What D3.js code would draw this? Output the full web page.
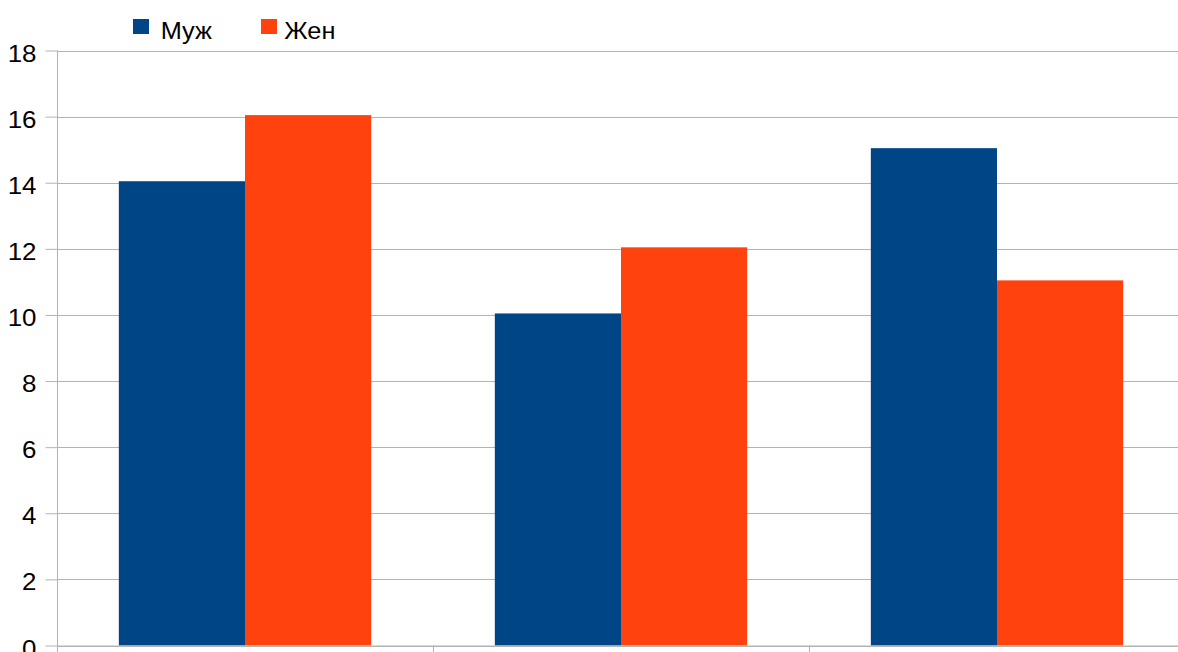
<!DOCTYPE html>
<html>
<head>
<meta charset="utf-8">
<script src="https://cdn.jsdelivr.net/npm/d3@7"></script>
<style>
  html, body { margin: 0; padding: 0; background: #fff; }
  svg { display: block; font-family: "Liberation Sans", Arial, sans-serif; }
</style>
</head>
<body>
<svg id="chart" width="1178" height="652"></svg>
<script>
'use strict';

// chart data
var categories = ['1', '2', '3'],
    seriesNames = ['Муж', 'Жен'],
    maleValues = [14, 10, 15],
    femaleValues = [16, 12, 11],
    yTicks = [0, 2, 4, 6, 8, 10, 12, 14, 16, 18];

(function () {
  var colors = ['#004586', '#ff420e'],
      series = [maleValues, femaleValues],
      axisStretch = 1.08,   // the reference text is drawn slightly wide
      legendStretch = 1.1;

  var svg = d3.select('#chart'),
      plotLeft = 57,
      plotRight = 1185,
      plotTop = 50.5,
      plotBottom = 645.5;

  var x = d3.scaleBand()
      .domain(categories)
      .range([plotLeft, plotRight]);

  var inner = d3.scaleBand()
      .domain(d3.range(series.length))
      .range([0, x.bandwidth()])
      .paddingOuter(0.49);

  var y = d3.scaleLinear()
      .domain([0, 18])
      .range([plotBottom, plotTop]);

  // gridlines
  svg.append('g')
      .selectAll('line')
      .data(yTicks)
      .join('line')
      .attr('x1', plotLeft)
      .attr('x2', 1178)
      .attr('y1', function (d) { return Math.round(y(d)) + 0.5; })
      .attr('y2', function (d) { return Math.round(y(d)) + 0.5; })
      .attr('stroke', '#b3b3b3')
      .attr('stroke-width', 1);

  // bars
  categories.forEach(function (cat, i) {
    series.forEach(function (values, s) {
      svg.append('rect')
          .attr('x', x(cat) + inner(s))
          .attr('width', inner.bandwidth())
          .attr('y', y(values[i]) - 1.5)
          .attr('height', plotBottom - y(values[i]) + 1.5)
          .attr('fill', colors[s]);
    });
  });

  // y axis
  var yAxis = svg.append('g')
      .attr('transform', 'translate(' + (plotLeft + 0.5) + ',0)')
      .call(d3.axisLeft(y).tickValues(yTicks).tickSize(12).tickPadding(9)
          .tickFormat(d3.format('d')));
  yAxis.select('.domain').attr('stroke', '#b3b3b3').attr('d', 'M0,' + plotTop + 'V652');
  yAxis.selectAll('.tick line').attr('stroke', '#b3b3b3');
  yAxis.selectAll('.tick text')
      .attr('fill', '#000')
      .attr('x', -21 / axisStretch)
      .attr('dy', '0.44em')
      .attr('transform', 'scale(' + axisStretch + ',1)')
      .style('font-size', '24px')
      .style('font-family', '"Liberation Sans", Arial, sans-serif');

  // x axis baseline and category ticks
  svg.append('line')
      .attr('x1', plotLeft).attr('x2', 1178)
      .attr('y1', plotBottom + 0.5).attr('y2', plotBottom + 0.5)
      .attr('stroke', '#b3b3b3');
  svg.append('g')
      .selectAll('line')
      .data(categories.slice(1))
      .join('line')
      .attr('x1', function (d) { return Math.round(x(d)) + 0.5; })
      .attr('x2', function (d) { return Math.round(x(d)) + 0.5; })
      .attr('y1', plotBottom)
      .attr('y2', 660)
      .attr('stroke', '#b3b3b3');

  // legend
  var legendX = [133, 261],
      legendTextX = [27.7, 23.3];
  var legend = svg.append('g')
      .selectAll('g')
      .data(seriesNames)
      .join('g')
      .attr('transform', function (d, i) { return 'translate(' + legendX[i] + ',19)'; });
  legend.append('rect')
      .attr('width', 16)
      .attr('height', 15)
      .attr('fill', function (d, i) { return colors[i]; });
  legend.append('text')
      .attr('x', function (d, i) { return legendTextX[i] / legendStretch; })
      .attr('y', 20)
      .attr('transform', 'scale(' + legendStretch + ',1)')
      .style('font-size', '23px')
      .attr('fill', '#000')
      .text(function (d) { return d; });
})();
</script>
</body>
</html>
